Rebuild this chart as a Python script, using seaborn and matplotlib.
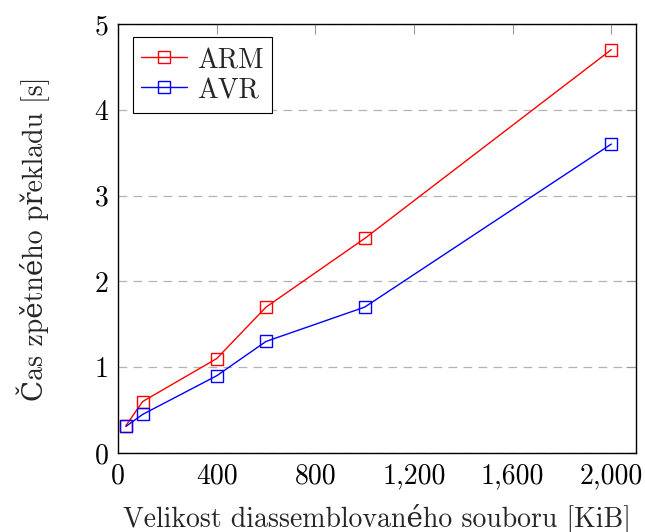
import numpy as np
import pandas as pd
import matplotlib
matplotlib.use("Agg")
import matplotlib.pyplot as plt
from matplotlib.ticker import StrMethodFormatter, MultipleLocator
import seaborn as sns

# ── data ──
size_kib = [32, 100, 400, 600, 1000, 2000]
arm_time = [0.32, 0.60, 1.10, 1.70, 2.50, 4.70]
avr_time = [0.31, 0.45, 0.90, 1.30, 1.70, 3.60]

df = pd.DataFrame({"size": size_kib, "ARM": arm_time, "AVR": avr_time})

sns.set_theme(style="white")
plt.rcParams.update({
    "font.family": ["cmr10", "DejaVu Serif"],
    "axes.formatter.use_mathtext": True,
    "axes.unicode_minus": False,
    "font.size": 20,
})

fig = plt.figure(figsize=(6.45, 5.32), dpi=100)
ax = fig.add_axes([0.183, 0.1485, 0.803, 0.8065])

for name, color in [("ARM", "#ff0000"), ("AVR", "#0000ff")]:
    sns.lineplot(data=df, x="size", y=name, ax=ax, color=color, label=name,
                 marker="s", markersize=8.5, markerfacecolor="none",
                 markeredgecolor=color, markeredgewidth=1.0, linewidth=1.0)

ax.set_xlim(0, 2100)
ax.set_ylim(0, 5)
ax.xaxis.set_major_locator(MultipleLocator(400))
ax.yaxis.set_major_locator(MultipleLocator(1))
ax.xaxis.set_major_formatter(StrMethodFormatter("{x:,.0f}"))
ax.yaxis.set_major_formatter(StrMethodFormatter("{x:.0f}"))

ax.grid(axis="y", linestyle=(0, (7, 5)), color="#b3b3b3", linewidth=0.9)
ax.grid(axis="x", visible=False)
for sp in ax.spines.values():
    sp.set_color("black")
    sp.set_linewidth(1.0)
ax.tick_params(direction="in", length=7, width=0.8, color="#999999",
               top=True, right=True, labelsize=20, labelcolor="black", pad=7)

ax.set_xlabel("Velikost diassemblovaného souboru [KiB]", fontsize=20, labelpad=10)
ax.set_ylabel("Čas zpětného překladu [s]", fontsize=20, labelpad=32)

leg = ax.legend(loc="upper left", fontsize=20, frameon=True, fancybox=False,
                edgecolor="black", framealpha=1, handlelength=1.65,
                handleheight=1.15, borderpad=0.3, labelspacing=0.05,
                handletextpad=0.35, borderaxespad=0,
                bbox_to_anchor=(0.029, 0.97))
leg.get_frame().set_linewidth(0.8)

fig.savefig("out.png", dpi=100)
